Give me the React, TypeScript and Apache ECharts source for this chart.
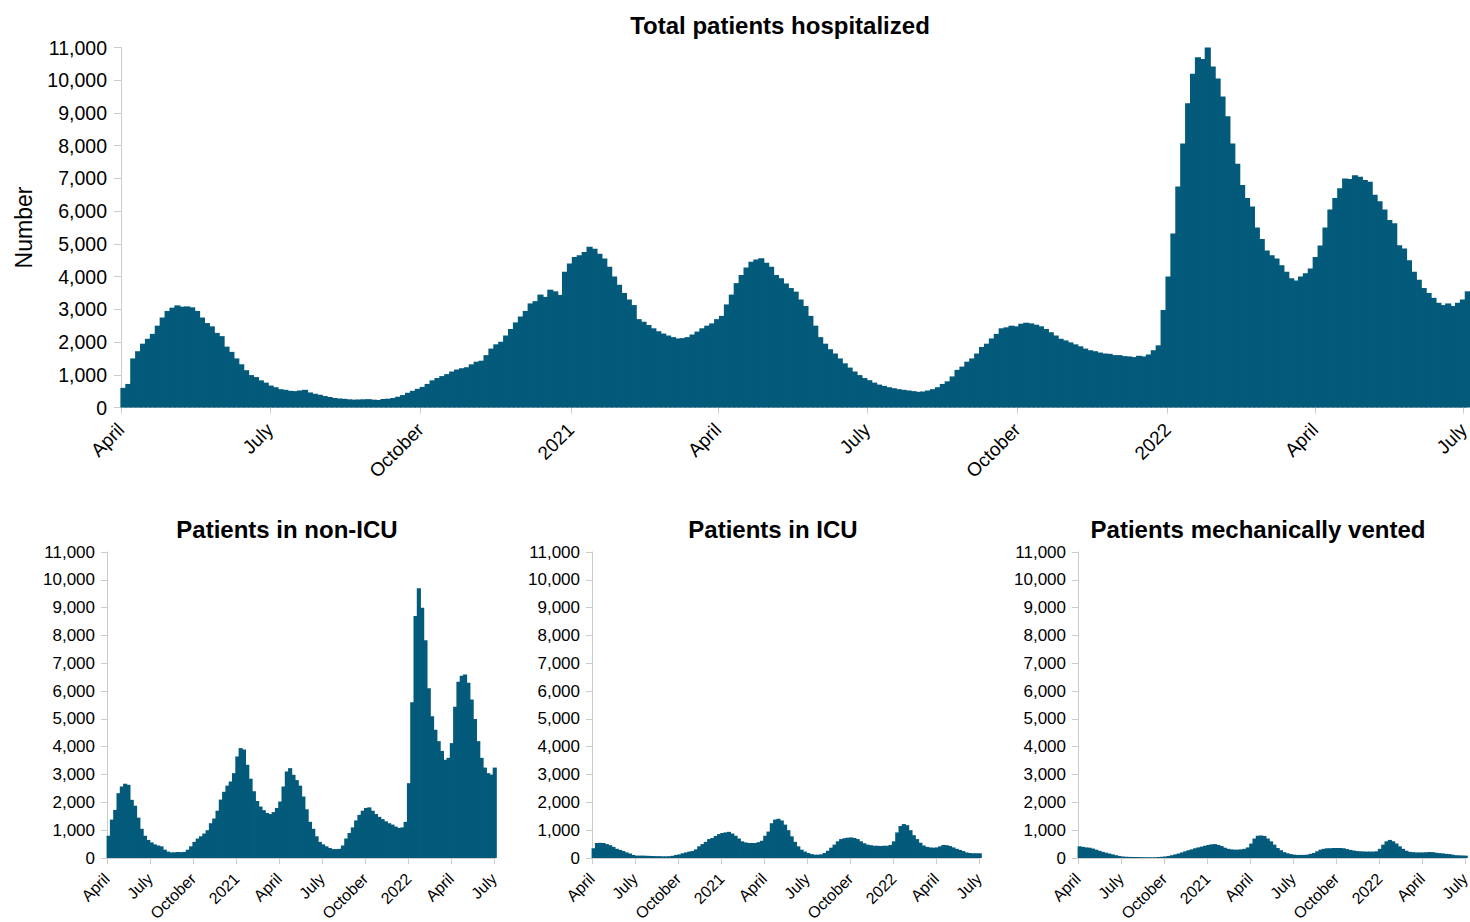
import React, { useEffect, useRef } from "react";
import * as echarts from "echarts";

// ---------- data ----------
const START_DATE = "2020-04-01";
const AXIS_END_DAYS = 823; // axis runs a little past July 1, 2022

// Total patients hospitalized, one value per 3-day period starting at START_DATE
const TOTAL_STEP_DAYS = 3;
const totalHospitalized = [
  600, 720, 1500, 1720, 1950, 2100, 2250, 2500, 2750, 2950,
  3050, 3120, 3080, 3090, 3060, 2950, 2750, 2580, 2480, 2280,
  2180, 1860, 1700, 1500, 1320, 1140, 990, 930, 830, 760,
  670, 620, 560, 540, 510, 500, 520, 540, 460, 420,
  390, 350, 320, 290, 275, 265, 250, 240, 245, 250,
  255, 240, 230, 260, 270, 290, 330, 380, 450, 510,
  570, 630, 720, 830, 900, 960, 1020, 1100, 1160, 1200,
  1230, 1320, 1400, 1430, 1600, 1800, 1930, 2010, 2200, 2400,
  2600, 2780, 2950, 3180, 3250, 3450, 3380, 3600, 3550, 3440,
  4150, 4400, 4600, 4650, 4750, 4910, 4850, 4700, 4550, 4300,
  4000, 3750, 3500, 3300, 3130, 2700, 2620, 2520, 2420, 2330,
  2260, 2200, 2150, 2110, 2120, 2150, 2230, 2320, 2420, 2500,
  2570, 2700, 2800, 3150, 3450, 3800, 4050, 4280, 4450, 4520,
  4560, 4420, 4300, 4050, 3950, 3790, 3650, 3540, 3300, 3100,
  2800, 2500, 2150, 1950, 1780, 1650, 1500, 1350, 1220, 1100,
  990, 900, 835, 760, 700, 660, 620, 590, 560, 540,
  520, 500, 480, 490, 520, 560, 620, 720, 800, 950,
  1150, 1250, 1400, 1500, 1650, 1850, 1950, 2110, 2250, 2420,
  2450, 2500, 2480, 2560, 2590, 2570, 2530, 2480, 2400, 2300,
  2200, 2100, 2050, 1990, 1930, 1870, 1800, 1750, 1720, 1680,
  1650, 1640, 1600, 1600, 1570, 1560, 1540, 1580, 1560, 1620,
  1750, 1900, 2980, 4000, 5320, 6750, 8070, 9300, 10200, 10700,
  10650, 11030, 10420, 10050, 9500, 8900, 8070, 7450, 6800, 6400,
  6140, 5500, 5150, 4800, 4650, 4550, 4350, 4150, 3950, 3880,
  4000, 4100, 4250, 4600, 4950, 5500, 6050, 6400, 6700, 7000,
  6980, 7100, 7050, 6950, 6900, 6500, 6300, 6050, 5730, 5630,
  4960, 4860, 4500, 4150, 3900, 3650, 3500, 3350, 3200, 3130,
  3180, 3100, 3200, 3300, 3550,
];

// Smaller panels, one value per week starting at START_DATE
const WEEK_STEP_DAYS = 7;
const nonIcuPatients = [
  800, 1380, 1730, 2330, 2570, 2670, 2630, 2090, 1880, 1450,
  1050, 800, 650, 560, 490, 450, 420, 300, 230, 200,
  205, 215, 210, 220, 300, 420, 580, 700, 780, 880,
  1000, 1250, 1420, 1700, 2100, 2380, 2600, 2750, 3050, 3650,
  3950, 3900, 3350, 2850, 2400, 2050, 1850, 1720, 1620, 1580,
  1650, 1800, 2030, 2570, 3110, 3230, 2990, 2800, 2600, 2210,
  1750, 1300, 1050, 780, 580, 490, 420, 360, 320, 320,
  330, 450, 700, 900, 1100, 1350, 1550, 1700, 1800, 1820,
  1700, 1580, 1480, 1400, 1320, 1250, 1200, 1130, 1080, 1100,
  1300, 2690, 5600, 8700, 9700, 9000, 7830, 6100, 5100, 4610,
  4200, 3850, 3530, 3600, 4130, 5440, 6340, 6550, 6600, 6300,
  5700, 5000, 4200, 3600, 3250, 3050, 3000, 3250,
];
const icuPatients = [
  350, 540, 545, 540, 500, 460, 400, 330, 290, 250,
  200, 160, 110, 85, 85, 85, 80, 75, 70, 65,
  65, 60, 60, 65, 80, 110, 130, 170, 200, 230,
  250, 310, 420, 500, 580, 680, 720, 790, 860, 900,
  920, 940, 880, 800, 700, 600, 560, 540, 540, 540,
  570, 620, 800, 950, 1250, 1380, 1410, 1350, 1200, 1000,
  780, 580, 420, 300, 230, 180, 140, 120, 120, 130,
  180, 260, 370, 480, 600, 680, 710, 730, 740, 720,
  680, 600, 530, 480, 460, 440, 440, 430, 440, 440,
  470, 600, 920, 1150, 1220, 1180, 1000, 820, 680, 550,
  450, 400, 380, 370, 380, 420, 470, 460, 430, 380,
  330, 290, 250, 200, 180, 170, 170, 170,
];
const ventedPatients = [
  420, 400, 380, 370, 340, 300, 260, 220, 190, 160,
  130, 100, 75, 55, 45, 40, 38, 35, 33, 30,
  28, 26, 25, 28, 35, 45, 55, 75, 100, 130,
  160, 200, 240, 280, 310, 350, 380, 410, 440, 470,
  490, 500, 470, 430, 370, 330, 310, 300, 300, 310,
  330, 380, 520, 700, 800, 810, 790, 700, 600, 480,
  360, 280, 210, 170, 140, 120, 110, 110, 110, 120,
  150, 180, 240, 300, 330, 350, 350, 360, 360, 360,
  350, 320, 290, 270, 250, 240, 235, 230, 230, 230,
  240, 330, 480, 600, 650, 600, 520, 420, 330, 260,
  220, 210, 200, 200, 200, 205, 215, 210, 190, 175,
  165, 150, 140, 120, 100, 95, 90, 85,
];

const tickDates = [
  "2020-04-01", "2020-07-01", "2020-10-01", "2021-01-01", "2021-04-01",
  "2021-07-01", "2021-10-01", "2022-01-01", "2022-04-01", "2022-07-01",
];
const tickLabels = [
  "April", "July", "October", "2021", "April",
  "July", "October", "2022", "April", "July",
];

const panelTitles = [
  "Total patients hospitalized",
  "Patients in non-ICU",
  "Patients in ICU",
  "Patients mechanically vented",
];

const Y_MIN = 0;
const Y_MAX = 11000;
const Y_STEP = 1000;

// ---------- helpers ----------
const DAY_MS = 86400000;
const START_MS = Date.parse(START_DATE);
const END_MS = START_MS + AXIS_END_DAYS * DAY_MS;
const tickValues = tickDates.map((d) => Date.parse(d));

function toBars(values: number[], stepDays: number) {
  return values.map((v, i) => [START_MS + (i + 0.5) * stepDays * DAY_MS, v]);
}

const FONT = "'Liberation Sans', Arial, Helvetica, sans-serif";
const BAR = "#035a7b";
const AXIS_GRAY = "#cccccc";

export default function App() {
  const ref = useRef<HTMLDivElement>(null);

  useEffect(() => {
    if (!ref.current) return;
    const chart = echarts.init(ref.current, undefined, { renderer: "svg" });

    const grids = [
      { left: 121, top: 47.5, width: 1346, height: 360 },
      { left: 107, top: 552, width: 388, height: 306 },
      { left: 592, top: 552, width: 388, height: 306 },
      { left: 1078, top: 552, width: 388, height: 306 },
    ];
    const big = [true, false, false, false];
    const seriesValues = [totalHospitalized, nonIcuPatients, icuPatients, ventedPatients];
    const steps = [TOTAL_STEP_DAYS, WEEK_STEP_DAYS, WEEK_STEP_DAYS, WEEK_STEP_DAYS];
    const titleX = [780, 287, 773, 1258];
    const titleY = [25, 529];

    const option: any = {
      animation: false,
      backgroundColor: "#ffffff",
      textStyle: { fontFamily: FONT },
      grid: grids.map((g) => ({ ...g, containLabel: false, outerBoundsMode: "none" })),
      xAxis: grids.map((_, i) => ({
        type: "value",
        gridIndex: i,
        min: START_MS,
        max: END_MS,
        axisLine: { show: true, lineStyle: { color: AXIS_GRAY, width: 1 } },
        axisTick: {
          show: true,
          length: 6,
          lineStyle: { color: AXIS_GRAY, width: 1 },
          customValues: tickValues,
        },
        axisLabel: {
          customValues: tickValues,
          rotate: 45,
          align: "right",
          verticalAlign: "middle",
          margin: big[i] ? 19 : 18,
          color: "#000",
          fontFamily: FONT,
          fontSize: big[i] ? 19 : 16,
          showMinLabel: true,
          showMaxLabel: true,
          formatter: (val: number) => {
            const k = tickValues.indexOf(val);
            return k >= 0 ? tickLabels[k] : "";
          },
        },
        splitLine: { show: false },
      })),
      yAxis: grids.map((_, i) => ({
        type: "value",
        gridIndex: i,
        min: Y_MIN,
        max: Y_MAX,
        interval: Y_STEP,
        name: i === 0 ? "Number" : "",
        nameLocation: "middle",
        nameGap: 86,
        nameMoveOverlap: false,
        nameTextStyle: { color: "#000", fontSize: 23, fontFamily: FONT },
        axisLine: { show: true, lineStyle: { color: AXIS_GRAY, width: 1 } },
        axisTick: { show: true, length: big[i] ? 7 : 6, lineStyle: { color: AXIS_GRAY, width: 1 } },
        axisLabel: {
          margin: big[i] ? 14 : 12,
          color: "#000",
          fontFamily: FONT,
          fontSize: big[i] ? 19.5 : 17,
          formatter: (v: number) => v.toLocaleString("en-US"),
        },
        splitLine: { show: false },
      })),
      series: seriesValues.map((vals, i) => ({
        type: "bar",
        name: panelTitles[i],
        xAxisIndex: i,
        yAxisIndex: i,
        data: toBars(vals, steps[i]),
        barWidth: "125%",
        clip: true,
        itemStyle: { color: BAR },
        emphasis: { disabled: true },
      })),
      graphic: panelTitles.map((t, i) => ({
        type: "text",
        x: titleX[i],
        y: i === 0 ? titleY[0] : titleY[1],
        style: {
          text: t,
          fontSize: 24,
          fontWeight: "bold",
          fontFamily: FONT,
          fill: "#000",
          align: "center",
          verticalAlign: "middle",
        },
      })),
    };

    chart.setOption(option);
    return () => chart.dispose();
  }, []);

  return (
    <div
      ref={ref}
      style={{ position: "absolute", left: 0, top: 0, width: 1470, height: 922 }}
    />
  );
}
